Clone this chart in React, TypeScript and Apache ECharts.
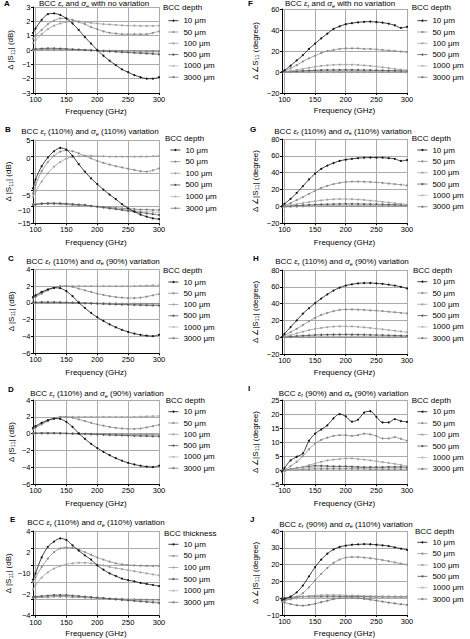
import React, { useEffect, useRef } from 'react';
import * as echarts from 'echarts';

const FONT = '"Liberation Sans", Arial, Helvetica, sans-serif';

// frequency grid (GHz)
const freqs = [96, 100, 110, 120, 130, 140, 150, 160, 170, 180, 190, 200, 210, 220, 230, 240, 250, 260, 270, 280, 290, 300];
const xTicks = [100, 150, 200, 250, 300];
const depthNames = ['10 μm', '50 μm', '100 μm', '500 μm', '1000 μm', '3000 μm'];
const colors = ['#111111', '#8a8a8a', '#a0a0a0', '#555555', '#b8b8b8', '#777777'];

// Panel A: Δ|S11| (dB), no variation
const a10 = [1.2, 1.5, 2.1, 2.5, 2.55, 2.45, 2.2, 1.85, 1.4, 0.9, 0.45, 0.0, -0.4, -0.75, -1.05, -1.35, -1.55, -1.75, -1.9, -2.0, -2.0, -1.9];
const a50 = [0.8, 1.0, 1.4, 1.8, 2.05, 2.2, 2.2, 2.1, 1.95, 1.8, 1.6, 1.45, 1.3, 1.2, 1.15, 1.1, 1.1, 1.1, 1.1, 1.1, 1.2, 1.3];
const a100 = [0.5, 0.7, 1.1, 1.45, 1.7, 1.85, 1.95, 2.0, 2.0, 1.95, 1.9, 1.85, 1.8, 1.78, 1.75, 1.72, 1.7, 1.7, 1.68, 1.68, 1.68, 1.7];
const a500 = [0.05, 0.07, 0.1, 0.12, 0.12, 0.1, 0.08, 0.05, 0.03, 0.0, -0.02, -0.05, -0.08, -0.1, -0.12, -0.15, -0.17, -0.2, -0.22, -0.25, -0.27, -0.3];
const a1000 = [0.0, 0.03, 0.05, 0.07, 0.07, 0.06, 0.05, 0.03, 0.01, -0.01, -0.03, -0.05, -0.07, -0.08, -0.1, -0.12, -0.13, -0.15, -0.17, -0.18, -0.2, -0.2];
const a3000 = [-0.02, 0, 0.02, 0.03, 0.03, 0.03, 0.02, 0.01, 0, -0.01, -0.02, -0.03, -0.04, -0.05, -0.06, -0.07, -0.08, -0.08, -0.09, -0.1, -0.1, -0.1];

// Panel F: Δ∠S11 (degree), no variation
const f10 = [0, 1.5, 6, 11, 16, 22, 27, 32, 36.5, 41, 43.5, 45.5, 46.5, 47.3, 47.8, 48, 47.6, 47, 46, 44.5, 42, 43];
const f50 = [0, 1, 3.5, 6.5, 10, 13, 15.5, 18, 20, 21, 22, 22.5, 22.5, 22.5, 22, 22, 21.5, 21, 20.5, 20, 19.5, 19];
const f100 = [0, 0.3, 1, 2, 3, 4, 5, 5.8, 6.4, 6.8, 7, 7, 7, 6.7, 6.3, 5.8, 5.2, 4.5, 3.8, 3, 2.3, 1.8];
const f500 = [0, 0.2, 0.5, 0.8, 1.1, 1.4, 1.6, 1.8, 1.9, 2, 2, 2, 2, 1.9, 1.8, 1.7, 1.6, 1.5, 1.4, 1.3, 1.2, 1.1];
const f1000 = [0, 0.1, 0.3, 0.5, 0.7, 0.8, 0.9, 1, 1, 1.05, 1.05, 1.05, 1, 1, 0.95, 0.9, 0.85, 0.8, 0.75, 0.7, 0.65, 0.6];
const f3000 = [0, 0, 0.1, 0.2, 0.3, 0.3, 0.35, 0.4, 0.4, 0.4, 0.4, 0.4, 0.4, 0.35, 0.35, 0.3, 0.3, 0.3, 0.25, 0.25, 0.2, 0.2];

// Panel B: Δ|S11| (dB), εr 110% σe 110%
const b10 = [-6.6, -4.5, -1.3, 0.8, 2.3, 3.1, 2.7, 1.2, -0.8, -2.6, -4.2, -5.6, -6.9, -8.1, -9.2, -10.4, -11.4, -12.2, -12.9, -13.4, -13.8, -14.0];
const b50 = [-7.8, -5.8, -2.5, -0.3, 1.2, 2.2, 2.5, 2.3, 1.8, 1.2, 0.6, 0.0, -0.5, -0.9, -1.3, -1.6, -1.9, -2.2, -2.5, -2.6, -2.3, -1.8];
const b100 = [-8.6, -7.4, -5.0, -3.0, -1.4, -0.3, 0.5, 0.9, 1.1, 1.2, 1.2, 1.1, 1.1, 1.0, 1.0, 1.0, 1.0, 1.0, 1.0, 1.0, 1.1, 1.2];
const b500 = [-10.6, -10.5, -10.3, -10.2, -10.2, -10.2, -10.3, -10.4, -10.5, -10.6, -10.8, -11.0, -11.2, -11.4, -11.6, -11.8, -12.0, -12.2, -12.4, -12.6, -12.8, -13.0];
const b1000 = [-10.5, -10.4, -10.3, -10.2, -10.2, -10.3, -10.4, -10.5, -10.6, -10.8, -10.9, -11.1, -11.2, -11.4, -11.5, -11.7, -11.8, -12.0, -12.1, -12.2, -12.3, -12.4];
const b3000 = [-10.4, -10.4, -10.3, -10.3, -10.3, -10.4, -10.5, -10.6, -10.7, -10.8, -10.9, -11.0, -11.1, -11.2, -11.3, -11.4, -11.5, -11.6, -11.7, -11.7, -11.8, -11.8];
const bTicks = [5, 1, -3, -7, -11, -15];
const bLabelVals = [5, 0.6, -8.4, -12, -15];
const bLabelTexts = ['5', '0', '\u22125', '\u221210', '\u221215'];

// Panel G: Δ∠|S11| (degree), εr 110% σe 110%
const g10 = [0, 3, 9, 16, 24, 32, 39, 44.5, 48.5, 51.5, 54, 55.5, 56.5, 57.3, 57.8, 58, 58, 57.8, 57.3, 56.5, 54, 55];
const g50 = [0, 1, 4, 7.5, 11, 15, 18.5, 22, 24.5, 26.5, 28, 29, 29.5, 29.5, 29.3, 29, 28.5, 28, 27.2, 26.5, 25.8, 25];
const g100 = [0, 0.5, 1.5, 2.8, 4, 5.2, 6.3, 7.2, 8, 8.5, 8.8, 8.8, 8.6, 8.2, 7.7, 7, 6.3, 5.5, 4.7, 3.8, 3, 2.2];
const g500 = [0, 0.2, 0.6, 1, 1.4, 1.8, 2.1, 2.4, 2.6, 2.8, 2.9, 3, 3, 2.9, 2.8, 2.7, 2.6, 2.4, 2.2, 2, 1.8, 1.6];
const g1000 = [-1, -0.8, -0.5, -0.2, 0.1, 0.4, 0.6, 0.8, 1, 1.1, 1.2, 1.2, 1.2, 1.2, 1.1, 1.1, 1, 1, 0.9, 0.9, 0.8, 0.8];
const g3000 = [0, 0, 0.1, 0.2, 0.3, 0.4, 0.5, 0.5, 0.6, 0.6, 0.6, 0.6, 0.6, 0.6, 0.5, 0.5, 0.5, 0.5, 0.5, 0.4, 0.4, 0.4];

// Panels C and D: Δ|S11| (dB), εr 110% σe 90%
const c10 = [0.7, 0.9, 1.3, 1.6, 1.8, 1.75, 1.4, 0.8, 0.05, -0.6, -1.2, -1.7, -2.15, -2.55, -2.9, -3.2, -3.45, -3.65, -3.8, -3.9, -3.95, -3.8];
const c50 = [0.5, 0.7, 1.1, 1.5, 1.8, 2.0, 2.0, 1.9, 1.7, 1.5, 1.3, 1.1, 0.95, 0.8, 0.7, 0.62, 0.58, 0.58, 0.62, 0.75, 0.9, 1.05];
const c100 = [0.6, 0.8, 1.2, 1.55, 1.8, 1.95, 2.0, 2.0, 2.0, 2.0, 2.0, 2.0, 2.0, 2.0, 2.0, 2.0, 2.0, 2.0, 2.02, 2.05, 2.08, 2.1];
const c500 = [0.05, 0.07, 0.08, 0.08, 0.08, 0.07, 0.05, 0.02, 0, -0.03, -0.06, -0.09, -0.12, -0.15, -0.18, -0.2, -0.22, -0.25, -0.27, -0.29, -0.31, -0.32];
const c1000 = [0.03, 0.05, 0.06, 0.06, 0.06, 0.05, 0.03, 0.01, -0.01, -0.03, -0.05, -0.07, -0.09, -0.11, -0.13, -0.15, -0.16, -0.18, -0.19, -0.2, -0.21, -0.22];
const c3000 = [0, 0.02, 0.03, 0.03, 0.03, 0.02, 0.01, 0, -0.01, -0.02, -0.03, -0.04, -0.05, -0.06, -0.07, -0.08, -0.09, -0.1, -0.1, -0.11, -0.11, -0.12];

// Panel H: Δ∠|S11| (degree), εr 110% σe 90%
const h10 = [0, 4, 12, 20, 28, 34.5, 40.5, 46, 51, 55.5, 59, 61.5, 63, 64, 64.5, 64.5, 64, 63.5, 62.5, 61.5, 60, 58];
const h50 = [0, 2, 6, 10, 14.5, 19, 23, 26.5, 29, 31, 32.5, 33, 33, 32.8, 32.5, 32, 31.5, 31, 30.3, 29.7, 29, 28.5];
const h100 = [0, 0.8, 2.5, 4.5, 6.5, 8.3, 9.8, 11, 12, 12.7, 13, 13, 12.8, 12.3, 11.7, 11, 10.2, 9.4, 8.5, 7.7, 6.8, 6];
const h500 = [0, 0.3, 0.8, 1.3, 1.8, 2.2, 2.6, 2.9, 3.1, 3.2, 3.3, 3.3, 3.2, 3.1, 3, 2.8, 2.6, 2.4, 2.2, 2, 1.8, 1.6];
const h1000 = [0, 0.1, 0.3, 0.5, 0.7, 0.9, 1, 1.1, 1.2, 1.2, 1.2, 1.2, 1.2, 1.1, 1.1, 1, 1, 0.9, 0.9, 0.8, 0.8, 0.7];
const h3000 = [0, 0, 0.1, 0.2, 0.2, 0.3, 0.3, 0.4, 0.4, 0.4, 0.4, 0.4, 0.4, 0.4, 0.4, 0.3, 0.3, 0.3, 0.3, 0.3, 0.3, 0.3];

// Panel I: Δ∠|S11| (degree), εr 90% σe 90%
const i10 = [-0.5, 0.8, 3.5, 4.8, 6.0, 10.5, 13.0, 14.5, 16.0, 18.5, 20.0, 19.2, 17.3, 18.0, 20.5, 21.0, 19.0, 17.0, 17.0, 18.2, 17.5, 17.2];
const i50 = [-0.5, 0, 1.5, 3, 5, 7.5, 9.5, 10.8, 11.6, 12.2, 12.5, 12.5, 12.2, 12.5, 13.0, 12.8, 12.2, 11.3, 11.3, 11.8, 11.2, 10.5];
const i100 = [-0.5, -0.3, 0.2, 0.7, 1.2, 1.8, 2.4, 3.0, 3.5, 3.8, 4.0, 4.2, 4.2, 4.0, 3.8, 3.5, 3.2, 2.9, 2.6, 2.3, 1.9, 1.5];
const i500 = [-0.3, 0, 0.4, 0.8, 1.1, 1.4, 1.6, 1.6, 1.5, 1.4, 1.4, 1.4, 1.3, 1.2, 1.1, 1.1, 1.1, 1.1, 1.2, 1.2, 1.2, 1.1];
const i1000 = [-0.5, -0.3, 0, 0.3, 0.6, 0.9, 1.1, 1.2, 1.2, 1.2, 1.2, 1.2, 1.1, 1.0, 0.9, 0.9, 0.9, 0.9, 0.9, 1.0, 1.0, 1.0];
const i3000 = [0, 0, 0.1, 0.2, 0.3, 0.4, 0.5, 0.5, 0.5, 0.5, 0.5, 0.5, 0.5, 0.5, 0.5, 0.4, 0.4, 0.4, 0.4, 0.4, 0.4, 0.4];

// Panel E: Δ|S11| (dB), εr 110% σe 110%, BCC thickness
const e10 = [-0.6, 0.0, 1.5, 2.5, 3.0, 3.3, 3.15, 2.65, 2.15, 1.7, 1.3, 0.75, 0.35, 0.0, -0.25, -0.5, -0.65, -0.75, -0.9, -1.0, -1.1, -1.2];
const e50 = [-0.8, -0.4, 0.6, 1.4, 2.0, 2.35, 2.45, 2.4, 2.25, 2.0, 1.75, 1.5, 1.3, 1.1, 0.95, 0.85, 0.8, 0.75, 0.72, 0.7, 0.7, 0.7];
const e100 = [-1.5, -1.1, -0.4, 0.1, 0.45, 0.7, 0.85, 0.95, 1.0, 1.0, 0.95, 0.85, 0.75, 0.6, 0.5, 0.4, 0.3, 0.2, 0.1, 0.0, -0.1, -0.2];
const e500 = [-2.25, -2.2, -2.15, -2.1, -2.05, -2.05, -2.05, -2.1, -2.15, -2.2, -2.25, -2.3, -2.35, -2.4, -2.45, -2.5, -2.55, -2.6, -2.65, -2.7, -2.75, -2.8];
const e1000 = [-2.25, -2.2, -2.2, -2.15, -2.1, -2.1, -2.1, -2.15, -2.2, -2.25, -2.3, -2.35, -2.4, -2.42, -2.45, -2.5, -2.52, -2.55, -2.57, -2.6, -2.62, -2.65];
const e3000 = [-2.3, -2.3, -2.25, -2.25, -2.2, -2.2, -2.2, -2.25, -2.25, -2.3, -2.3, -2.35, -2.35, -2.4, -2.4, -2.42, -2.45, -2.45, -2.47, -2.48, -2.5, -2.5];
const eTicks = [-4, -2.4, -0.8, 0.8, 2.4, 4];
const eLabelVals = [4, 2, 0, -2, -4];
const eLabelTexts = ['4', '2', '\u221210', '\u22122', '\u22124'];

// Panel J: Δ∠|S11| (degree), εr 90% σe 110%
const j10 = [-1, -0.5, 1, 3.5, 7.5, 13, 18.5, 23, 26.5, 29, 30.5, 31.3, 31.8, 32, 32.2, 32.1, 31.8, 31.5, 31, 30.3, 29.5, 28.7];
const j50 = [-1.5, -1.2, -0.5, 0.8, 3, 6.5, 10.5, 14.5, 18, 21, 23, 24.2, 24.5, 24.5, 24.2, 23.8, 23.3, 22.7, 22, 21.3, 20.6, 20];
const j100 = [-2, -1.5, -0.5, 0.3, 0.9, 1.3, 1.6, 1.8, 1.9, 1.9, 1.8, 1.7, 1.6, 1.5, 1.4, 1.3, 1.2, 1.1, 1, 0.9, 0.8, 0.7];
const j500 = [0, 0.2, 0.5, 0.8, 1, 1.1, 1.2, 1.2, 1.2, 1.2, 1.1, 1.1, 1, 1, 1, 0.9, 0.9, 0.9, 0.9, 0.9, 0.9, 0.9];
const j1000 = [-1, -0.8, -0.5, -0.2, 0, 0.2, 0.4, 0.5, 0.5, 0.6, 0.6, 0.6, 0.6, 0.6, 0.6, 0.6, 0.6, 0.6, 0.6, 0.6, 0.6, 0.6];
const j3000 = [-2, -2.5, -3.5, -4.2, -4.4, -4.0, -3.3, -2.4, -1.5, -0.6, 0, 0.2, 0.2, 0, -0.4, -0.9, -1.4, -2, -2.6, -3.1, -3.6, -4.0];
const jLabelVals = [40, 30, 20, 10, 0, -10];
const jLabelTexts = ['40', '30', '20', '20', '0', '\u221210'];

const magName = 'Δ |S{s|11}| (dB)';
const phaseName0 = 'Δ ∠S{s|11} (degree)';
const phaseName = 'Δ ∠|S{s|11}| (degree)';

const tNo = 'BCC {i|ε}{s|r} and {i|σ}{s|e} with no variation';
const t1111 = 'BCC {i|ε}{s|r} (110%) and {i|σ}{s|e} (110%) variation';
const t1109 = 'BCC {i|ε}{s|r} (110%) and {i|σ}{s|e} (90%) variation';
const t0909 = 'BCC {i|ε}{s|r} (90%) and {i|σ}{s|e} (90%) variation';
const t0911 = 'BCC {i|ε}{s|r} (90%) and {i|σ}{s|e} (110%) variation';

type Panel = {
  letter: string; lx: number; ly: number;
  title: string; tx: number; ty: number;
  header: string; hx: number; hy: number;
  legX: number; legY: number; pitch: number;
  grid: { left: number; top: number; width: number; height: number };
  yMin: number; yMax: number; yInterval?: number;
  yTicks?: number[]; yLabelVals?: number[]; yLabelTexts?: string[];
  yName: string; yNameGap: number; xNameGap: number;
  data: number[][];
};

const L = 33, LW = 126, R = 282, RW = 125;

const panels: Panel[] = [
  { letter: 'A', lx: 4, ly: 3.5, title: tNo, tx: 94, ty: 3.5, header: 'BCC depth', hx: 163, hy: 7, legX: 168, legY: 20.7, pitch: 11.3,
    grid: { left: L, top: 7, width: LW, height: 86 }, yMin: -3, yMax: 3, yInterval: 1, yName: magName, yNameGap: 17.5, xNameGap: 14,
    data: [a10, a50, a100, a500, a1000, a3000] },
  { letter: 'F', lx: 248, ly: 3.5, title: tNo, tx: 340, ty: 3.5, header: 'BCC depth', hx: 411.7, hy: 7, legX: 417, legY: 20.7, pitch: 11.3,
    grid: { left: R, top: 9, width: RW, height: 84 }, yMin: -20, yMax: 60, yInterval: 20, yName: phaseName0, yNameGap: 22, xNameGap: 13.7,
    data: [f10, f50, f100, f500, f1000, f3000] },
  { letter: 'B', lx: 5, ly: 129, title: t1111, tx: 90, ty: 131.7, header: 'BCC depth', hx: 165, hy: 138, legX: 170, legY: 150, pitch: 11.65,
    grid: { left: L, top: 140, width: LW, height: 83.3 }, yMin: -15, yMax: 5, yTicks: bTicks, yLabelVals: bLabelVals, yLabelTexts: bLabelTexts,
    yName: magName, yNameGap: 17, xNameGap: 14.7, data: [b10, b50, b100, b500, b1000, b3000] },
  { letter: 'G', lx: 250, ly: 129, title: t1111, tx: 343, ty: 131, header: 'BCC depth', hx: 411.7, hy: 138.3, legX: 417, legY: 150, pitch: 11.35,
    grid: { left: R, top: 139, width: RW, height: 84.3 }, yMin: -20, yMax: 80, yInterval: 20, yName: phaseName, yNameGap: 22, xNameGap: 15,
    data: [g10, g50, g100, g500, g1000, g3000] },
  { letter: 'C', lx: 8, ly: 258, title: t1109, tx: 93, ty: 261, header: 'BCC depth', hx: 163, hy: 270.7, legX: 168, legY: 282, pitch: 11.25,
    grid: { left: L, top: 269.3, width: LW, height: 84 }, yMin: -6, yMax: 4, yInterval: 2, yName: magName, yNameGap: 17, xNameGap: 15.4,
    data: [c10, c50, c100, c500, c1000, c3000] },
  { letter: 'H', lx: 253, ly: 258, title: t1109, tx: 342, ty: 261.5, header: 'BCC depth', hx: 413, hy: 270, legX: 417, legY: 281.7, pitch: 11.3,
    grid: { left: R, top: 270, width: RW, height: 84 }, yMin: -20, yMax: 80, yInterval: 20, yName: phaseName, yNameGap: 22, xNameGap: 14.7,
    data: [h10, h50, h100, h500, h1000, h3000] },
  { letter: 'D', lx: 8, ly: 389, title: t1109, tx: 97, ty: 393.5, header: 'BCC depth', hx: 165.7, hy: 400, legX: 168, legY: 411.7, pitch: 11.3,
    grid: { left: L, top: 400, width: LW, height: 84.3 }, yMin: -6, yMax: 4, yInterval: 2, yName: magName, yNameGap: 17, xNameGap: 15,
    data: [c10, c50, c100, c500, c1000, c3000] },
  { letter: 'I', lx: 248, ly: 388, title: t0909, tx: 343.5, ty: 393, header: 'BCC depth', hx: 411.7, hy: 400, legX: 417, legY: 411.7, pitch: 11.45,
    grid: { left: R, top: 400, width: RW, height: 84.3 }, yMin: -5, yMax: 25, yInterval: 5, yName: phaseName, yNameGap: 22, xNameGap: 15,
    data: [i10, i50, i100, i500, i1000, i3000] },
  { letter: 'E', lx: 10, ly: 519, title: t1111, tx: 96, ty: 522.5, header: 'BCC thickness', hx: 164, hy: 533.3, legX: 168, legY: 544.3, pitch: 11.6,
    grid: { left: L, top: 531, width: LW, height: 84.7 }, yMin: -4, yMax: 4, yTicks: eTicks, yLabelVals: eLabelVals, yLabelTexts: eLabelTexts,
    yName: magName, yNameGap: 18, xNameGap: 13.6, data: [e10, e50, e100, e500, e1000, e3000] },
  { letter: 'J', lx: 250, ly: 519, title: t0911, tx: 346, ty: 524, header: 'BCC depth', hx: 415, hy: 531, legX: 417, legY: 542.3, pitch: 11.35,
    grid: { left: R, top: 531, width: RW, height: 84 }, yMin: -10, yMax: 40, yInterval: 10, yLabelVals: jLabelVals, yLabelTexts: jLabelTexts,
    yName: phaseName, yNameGap: 22, xNameGap: 14.3, data: [j10, j50, j100, j500, j1000, j3000] },
];

const fmtNum = (v: number) => (v < 0 ? '\u2212' + Math.abs(v) : String(v));
const subRich = { s: { fontSize: 5.5, verticalAlign: 'bottom', lineHeight: 5, fontFamily: FONT }, i: { fontStyle: 'italic', fontSize: 8, fontFamily: FONT } };

function buildOption() {
  const grid = panels.map((p) => ({ ...p.grid }));
  const xAxis = panels.map((p, gi) => ({
    type: 'value', gridIndex: gi, min: 96, max: 300,
    name: 'Frequency (GHz)', nameLocation: 'middle', nameGap: p.xNameGap,
    nameTextStyle: { fontSize: 8, color: '#000', fontFamily: FONT },
    axisLine: { show: true, onZero: false, lineStyle: { color: '#000', width: 1 } },
    axisTick: { show: true, customValues: xTicks, length: 2, lineStyle: { color: '#000' } },
    axisLabel: { customValues: xTicks, fontSize: 7.5, color: '#000', margin: 2.5, fontFamily: FONT },
    splitLine: { show: true, lineStyle: { color: '#ababab', width: 1 } },
  }));
  const yAxis = panels.map((p, gi) => {
    const ax: any = {
      type: 'value', gridIndex: gi, min: p.yMin, max: p.yMax,
      name: p.yName, nameLocation: 'middle', nameGap: p.yNameGap,
      nameTextStyle: { fontSize: 8, color: '#000', fontFamily: FONT, lineHeight: 10, rich: subRich },
      axisLine: { show: true, onZero: false, lineStyle: { color: '#000', width: 1 } },
      axisTick: { show: true, length: 2, lineStyle: { color: '#000' } },
      axisLabel: {
        fontSize: 7.5, color: '#000', margin: 2.5, fontFamily: FONT,
        formatter: (v: number) => {
          if (p.yLabelVals && p.yLabelTexts) {
            const k = p.yLabelVals.findIndex((x) => Math.abs(x - v) < 1e-6);
            return k >= 0 ? p.yLabelTexts[k] : '';
          }
          return fmtNum(v);
        },
      },
      splitLine: { show: true, lineStyle: { color: '#ababab', width: 1 } },
    };
    if (p.yInterval !== undefined) ax.interval = p.yInterval;
    if (p.yTicks) ax.axisTick.customValues = p.yTicks;
    if (p.yLabelVals && p.yTicks) ax.axisLabel.customValues = p.yLabelVals;
    return ax;
  });
  const series: any[] = [];
  panels.forEach((p, gi) => {
    p.data.forEach((vals, k) => {
      series.push({
        type: 'line', name: depthNames[k], xAxisIndex: gi, yAxisIndex: gi,
        data: freqs.map((f, j) => [f, vals[j]]),
        smooth: 0.3, symbol: 'circle', symbolSize: 2, showSymbol: true,
        lineStyle: { width: 0.8, color: colors[k] }, itemStyle: { color: colors[k] },
        z: 10 - k, emphasis: { disabled: true },
      });
    });
  });
  const legend = panels.map((p) => ({
    orient: 'vertical', left: p.legX, top: p.legY - 4, padding: 0,
    itemWidth: 10, itemHeight: 2.5, itemGap: p.pitch - 8,
    data: depthNames, selectedMode: false,
    lineStyle: { width: 0.8 },
    textStyle: { fontSize: 8, color: '#000', fontFamily: FONT, lineHeight: 8 },
  }));
  const elements: any[] = [];
  panels.forEach((p) => {
    elements.push({ type: 'text', x: p.lx, y: p.ly, style: { text: p.letter, fontSize: 8, fontWeight: 'bold', fontFamily: FONT, fill: '#000', align: 'left', verticalAlign: 'middle' } });
    elements.push({ type: 'text', x: p.tx, y: p.ty, style: { text: p.title, fontSize: 8, fontFamily: FONT, fill: '#000', align: 'center', verticalAlign: 'middle', lineHeight: 10, rich: subRich } });
    elements.push({ type: 'text', x: p.hx, y: p.hy, style: { text: p.header, fontSize: 8, fontFamily: FONT, fill: '#000', align: 'left', verticalAlign: 'middle' } });
  });
  return {
    animation: false,
    backgroundColor: '#fff',
    textStyle: { fontFamily: FONT },
    grid, xAxis, yAxis, series, legend,
    graphic: { elements },
  };
}

export default function App() {
  const ref = useRef<HTMLDivElement>(null);
  useEffect(() => {
    if (!ref.current) return;
    const chart = echarts.init(ref.current, undefined, { renderer: 'svg' });
    chart.setOption(buildOption() as any);
    return () => chart.dispose();
  }, []);
  return <div ref={ref} style={{ position: 'absolute', left: 0, top: 0, width: 470, height: 639, background: '#fff' }} />;
}
